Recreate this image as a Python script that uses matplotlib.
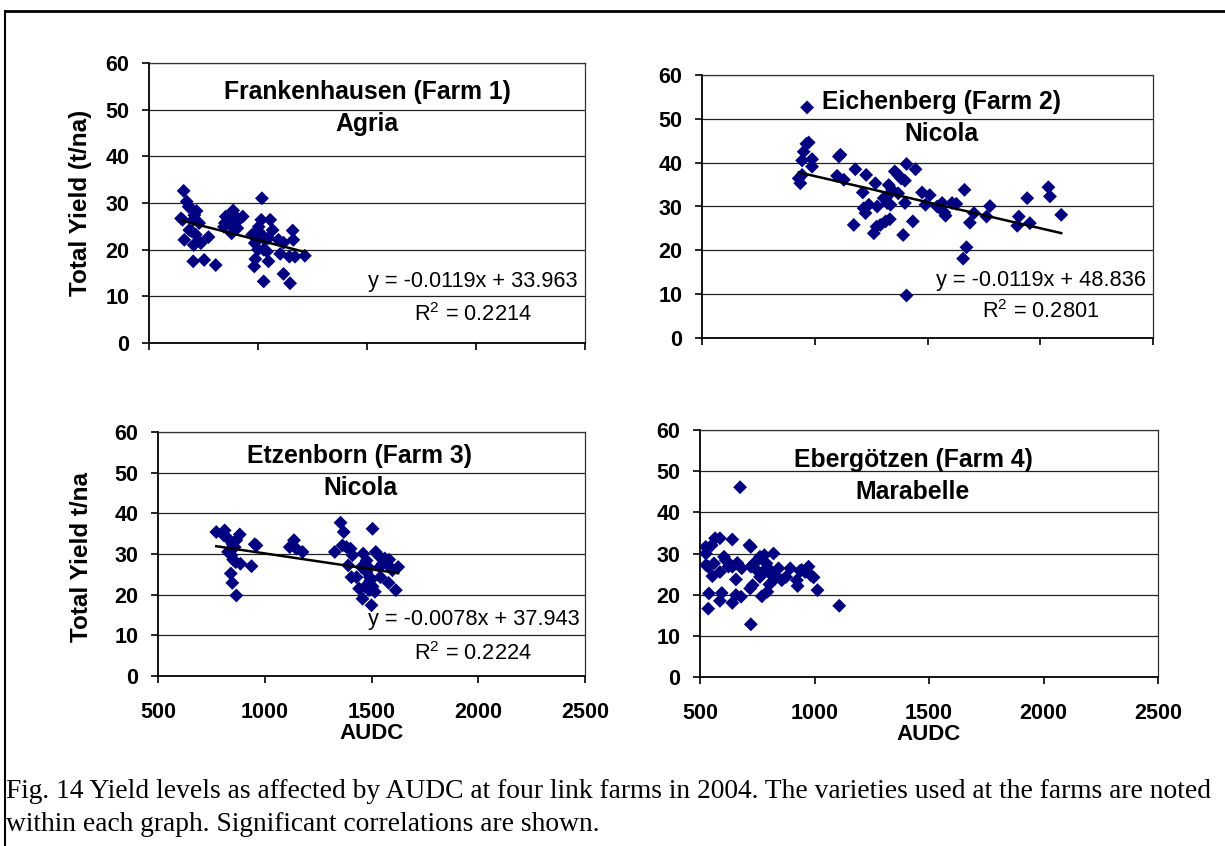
import matplotlib
matplotlib.use("Agg")
import matplotlib.pyplot as plt
from matplotlib.lines import Line2D
import numpy as np

plt.rcParams['font.family'] = ['Liberation Sans', 'DejaVu Sans']
plt.rcParams['mathtext.default'] = 'regular'

# ---------------- data ----------------
farm1_x = [659, 673, 682, 647, 654, 700, 718, 708, 703, 730, 685, 697, 715, 662, 705, 738, 773,
           703, 753, 806, 852, 848, 844, 879, 886, 897, 912, 930, 905, 870, 1018, 1015, 1003, 988,
           973, 995, 1018, 1033, 1056, 1067, 1048, 985, 1000, 1026, 1041, 988, 983, 1048, 1026,
           1094, 1117, 1102, 1117, 1147, 1159, 1162, 1144, 1170, 1215]
farm1_y = [32.6, 30.3, 29.2, 26.7, 26.4, 28.5, 28.3, 27.4, 26.4, 25.7, 24.2, 23.9, 23.2, 22.1,
           21.0, 21.4, 22.7, 17.5, 17.8, 16.7, 27.1, 25.7, 24.9, 23.5, 28.4, 27.1, 26.4, 27.1,
           24.6, 25.8, 31.0, 26.4, 24.9, 23.5, 23.2, 22.1, 23.2, 22.1, 26.4, 24.2, 22.5, 21.4,
           20.0, 20.0, 19.6, 18.0, 16.4, 17.5, 13.2, 22.1, 21.5, 19.1, 14.8, 12.8, 24.1, 22.1,
           18.5, 18.5, 18.7]

farm2_x = [966, 973, 963, 951, 944, 988, 988, 929, 936, 944, 1114, 1107, 1099, 1129, 1180, 1228,
           1213, 1269, 1173, 1217, 1225, 1240, 1277, 1262, 1274, 1291, 1314, 1333, 1306, 1321,
           1328, 1343, 1321, 1336, 1355, 1370, 1383, 1400, 1407, 1447, 1370, 1400, 1392, 1435,
           1407, 1476, 1510, 1491, 1543, 1565, 1575, 1580, 1609, 1628, 1664, 1688, 1706, 1673,
           1658, 1762, 1777, 1905, 1898, 1942, 1954, 2036, 2043, 2093]
farm2_y = [52.6, 44.6, 44.3, 42.5, 40.5, 40.8, 39.1, 36.4, 35.3, 37.2, 41.8, 41.4, 37.0, 36.1,
           38.5, 37.2, 33.2, 35.3, 25.8, 29.6, 28.5, 30.4, 30.0, 23.9, 25.4, 25.8, 26.6, 27.1,
           31.9, 32.3, 34.9, 33.8, 30.8, 30.4, 38.0, 37.2, 36.4, 35.9, 39.7, 38.5, 33.0, 30.8,
           23.5, 26.6, 9.7, 33.2, 32.6, 30.4, 30.0, 30.8, 28.6, 27.9, 30.8, 30.6, 33.8, 26.3,
           28.5, 20.7, 18.1, 27.7, 30.1, 27.7, 25.6, 31.9, 26.2, 34.4, 32.3, 28.1]

farm3_x = [773, 812, 808, 828, 883, 867, 848, 859, 828, 844, 852, 864, 886, 841, 848, 867, 938,
           961, 953, 1117, 1137, 1148, 1177, 1328, 1355, 1370, 1364, 1383, 1402, 1411, 1391,
           1406, 1430, 1442, 1458, 1469, 1461, 1477, 1484, 1477, 1492, 1495, 1500, 1505, 1505,
           1516, 1520, 1531, 1539, 1542, 1552, 1562, 1583, 1580, 1586, 1598, 1614, 1625, 1489,
           1453]
farm3_y = [35.4, 35.8, 34.6, 33.8, 34.8, 33.4, 32.5, 31.7, 30.5, 29.7, 28.6, 28.0, 27.6, 25.2,
           22.9, 19.8, 27.0, 32.1, 32.4, 31.7, 33.4, 31.3, 30.5, 30.5, 37.7, 35.4, 32.1, 31.7,
           31.3, 29.7, 27.2, 24.3, 24.3, 21.5, 19.0, 21.9, 30.1, 28.4, 26.8, 25.6, 24.3, 23.5,
           17.4, 36.2, 22.0, 20.7, 30.5, 29.7, 26.8, 24.3, 27.6, 28.9, 28.6, 22.9, 26.8, 26.0,
           21.1, 26.8, 21.1, 26.8]

farm4_x = [675, 525, 526, 551, 566, 587, 641, 716, 722, 821, 526, 536, 561, 554, 587, 605, 612,
           624, 641, 663, 682, 657, 539, 595, 587, 641, 657, 679, 536, 722, 719, 730, 722, 737,
           753, 762, 747, 762, 774, 781, 790, 798, 806, 770, 794, 803, 821, 828, 843, 857, 876,
           894, 923, 926, 937, 959, 974, 984, 996, 1013, 1108, 944]
farm4_y = [46.1, 31.6, 30.0, 32.0, 33.7, 33.7, 33.4, 32.0, 31.6, 30.0, 27.2, 26.8, 27.6, 24.5,
           25.5, 29.2, 28.4, 26.8, 26.8, 27.7, 26.4, 23.7, 20.3, 20.4, 18.5, 18.0, 19.9, 19.5,
           16.6, 12.8, 21.5, 22.3, 26.8, 27.6, 28.5, 29.2, 26.0, 24.3, 25.5, 29.6, 27.6, 26.4,
           25.1, 19.6, 20.7, 22.5, 23.5, 24.7, 26.4, 23.5, 24.3, 26.4, 23.5, 22.1, 25.8, 25.5,
           26.8, 24.7, 24.2, 21.1, 17.3, 26.0]

titles = ["Frankenhausen (Farm 1)", "Eichenberg (Farm 2)", "Etzenborn (Farm 3)", "Ebergötzen (Farm 4)"]
varieties = ["Agria", "Nicola", "Nicola", "Marabelle"]
slopes = [-0.0119, -0.0119, -0.0078, None]
intercepts = [33.963, 48.836, 37.943, None]
r2 = ["0.2214", "0.2801", "0.2224", None]
eq_text = ["y = -0.0119x + 33.963", "y = -0.0119x + 48.836", "y = -0.0078x + 37.943", None]

x_ticks = [500, 1000, 1500, 2000, 2500]
y_ticks = [0, 10, 20, 30, 40, 50, 60]
ylabels = ["Total Yield (t/na)", None, "Total Yield t/na", None]
caption1 = "Fig. 14 Yield levels as affected by AUDC at four link farms in 2004. The varieties used at the farms are noted"
caption2 = "within each graph. Significant correlations are shown."

xs = [farm1_x, farm2_x, farm3_x, farm4_x]
ys = [farm1_y, farm2_y, farm3_y, farm4_y]

# ---------------- layout ----------------
W, H = 1225, 846
fig = plt.figure(figsize=(W / 100, H / 100), dpi=100)

def rect(l, r, t, b):
    return [l / W, 1 - b / H, (r - l) / W, (b - t) / H]

rects = [rect(149, 585, 63, 343), rect(702, 1153, 75, 338),
         rect(158, 585, 432, 676), rect(700, 1158, 430, 677)]

title_pos = [(0.5, 0.895, 0.783), (0.53, 0.897, 0.776), (0.473, 0.90, 0.77), (0.465, 0.878, 0.749)]
eq_pos = [(0.984, 0.218, 0.743, 0.10), (0.984, 0.22, 0.75, 0.099), (0.988, 0.23, 0.738, 0.094), None]
ylabel_coords = [(-0.131, 0.5), None, (-0.152, 0.488), None]

navy = '#000080'
TICK_FS = 15.5
TITLE_FS = 17.8
EQ_FS = 15.7

for i in range(4):
    ax = fig.add_axes(rects[i])
    ax.set_xlim(500, 2500)
    ax.set_ylim(0, 60)
    ax.set_xticks(x_ticks)
    ax.set_yticks(y_ticks)
    for yv in y_ticks[1:]:
        ax.axhline(yv, color='#222222', lw=0.9, zorder=1)
    ax.scatter(xs[i], ys[i], marker='D', s=50, color=navy, edgecolors='none', zorder=3)
    if slopes[i] is not None:
        xa = np.array(xs[i])
        xl = np.array([xa.min(), xa.max()])
        ax.plot(xl, slopes[i] * xl + intercepts[i], color='black', lw=1.8, zorder=4)
        ex, ey, rx, ry = eq_pos[i]
        ax.text(ex, ey, eq_text[i], transform=ax.transAxes, ha='right', va='center', fontsize=EQ_FS)
        ax.text(rx, ry, "R$^{2}$ = " + r2[i], transform=ax.transAxes, ha='center', va='center', fontsize=EQ_FS)
    tx, ty1, ty2 = title_pos[i]
    ax.text(tx, ty1, titles[i], transform=ax.transAxes, ha='center', va='center', fontsize=TITLE_FS, fontweight='bold')
    ax.text(tx, ty2, varieties[i], transform=ax.transAxes, ha='center', va='center', fontsize=TITLE_FS, fontweight='bold')

    for s in ['left', 'bottom']:
        ax.spines[s].set_color('black')
        ax.spines[s].set_linewidth(1.3)
    for s in ['top', 'right']:
        ax.spines[s].set_color('#333333')
        ax.spines[s].set_linewidth(0.9)
    ax.tick_params(axis='both', direction='out', length=5, width=1.2, labelsize=TICK_FS)
    ax.tick_params(axis='y', pad=9)
    ax.tick_params(axis='x', pad=14)
    for lab in ax.get_xticklabels() + ax.get_yticklabels():
        lab.set_fontweight('bold')
    if i < 2:
        ax.tick_params(axis='x', labelbottom=False)
    else:
        ax.set_xlabel("AUDC", fontsize=16, fontweight='bold', labelpad=0)
    if ylabels[i]:
        ax.set_ylabel(ylabels[i], fontsize=17.5, fontweight='bold')
        ax.yaxis.set_label_coords(*ylabel_coords[i])

# caption
fig.text(6 / W, 1 - 798 / H, caption1, family='Liberation Serif', fontsize=19.8, ha='left', va='baseline')
fig.text(6 / W, 1 - 831 / H, caption2, family='Liberation Serif', fontsize=19.8, ha='left', va='baseline')

# frame
fig.add_artist(Line2D([5 / W, 5 / W], [0, 1 - 11 / H], color='black', lw=1.5, transform=fig.transFigure))
fig.add_artist(Line2D([5 / W, 1], [1 - 11 / H, 1 - 11 / H], color='black', lw=2, transform=fig.transFigure))

fig.savefig("out.png", dpi=100)
